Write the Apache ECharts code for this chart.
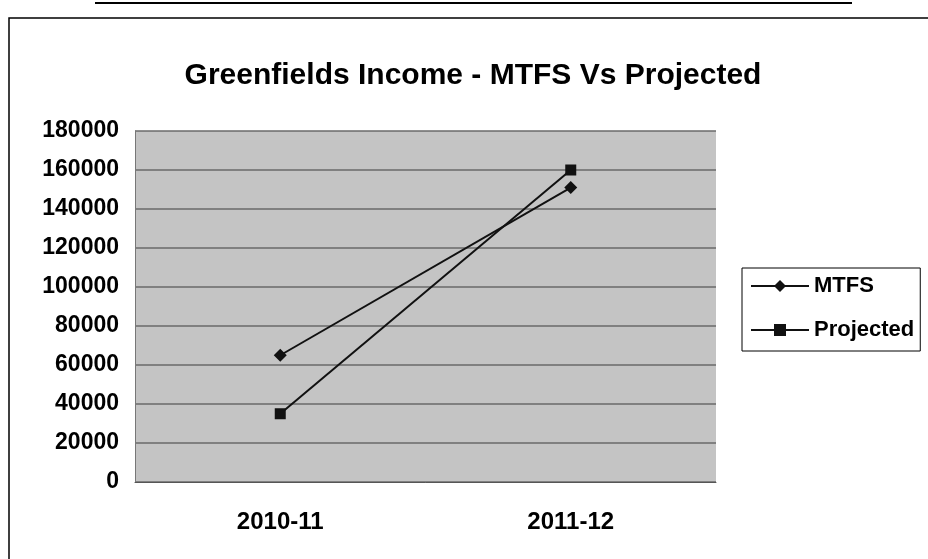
<!DOCTYPE html>
<html>
<head>
<meta charset="utf-8">
<script src="https://cdn.jsdelivr.net/npm/echarts@6/dist/echarts.min.js"></script>
<style>
html,body{margin:0;padding:0;background:#fff;}
#chart{width:928px;height:559px;}
</style>
</head>
<body>
<div id="chart"></div>
<script>
const categories = ['2010-11', '2011-12'];
const mtfs = [65000, 151000];
const projected = [35000, 160000];
const yMin = 0, yMax = 180000, yStep = 20000;

const chart = echarts.init(document.getElementById('chart'));
const font = '"Liberation Sans", Arial, sans-serif';
chart.setOption({
  backgroundColor: '#ffffff',
  animation: false,
  title: {
    text: 'Greenfields Income - MTFS Vs Projected',
    left: 468, top: 56, textAlign: 'center',
    textStyle: {fontFamily: font, fontWeight: 'bold', fontSize: 30, color: '#000'}
  },
  graphic: [
    {type: 'line', shape: {x1: 95, y1: 3, x2: 852, y2: 3}, style: {stroke: '#000', lineWidth: 2}},
    {type: 'polyline', shape: {points: [[9, 559], [9, 18], [928, 18]]}, style: {stroke: '#000', lineWidth: 1.5, fill: null}}
  ],
  grid: {left: 135, right: 212, top: 131, bottom: 77, show: true, backgroundColor: '#c4c4c4', borderWidth: 0},
  legend: {
    orient: 'vertical', left: 742, top: 268,
    itemWidth: 58, itemHeight: 15, itemGap: 20,
    padding: [6, 6, 9, 8],
    backgroundColor: '#fff', borderColor: '#000', borderWidth: 1, borderRadius: 0,
    textStyle: {fontFamily: font, fontWeight: 'bold', fontSize: 22, lineHeight: 24, color: '#000'},
    data: ['MTFS', 'Projected']
  },
  xAxis: {
    type: 'category', data: categories, boundaryGap: true,
    axisLine: {lineStyle: {color: '#555', width: 1}},
    axisTick: {show: false},
    axisLabel: {fontFamily: font, fontWeight: 'bold', fontSize: 24, color: '#000', margin: 28}
  },
  yAxis: {
    type: 'value', min: yMin, max: yMax, interval: yStep,
    axisLine: {show: true, lineStyle: {color: '#777', width: 1}},
    axisTick: {show: false},
    splitLine: {lineStyle: {color: '#6a6a6a', width: 1.5}},
    axisLabel: {fontFamily: font, fontWeight: 'bold', fontSize: 23, color: '#000', margin: 16,
      formatter: function (v) { return String(v); }}
  },
  series: [
    {name: 'MTFS', type: 'line', data: mtfs, symbol: 'diamond', symbolSize: 13,
     lineStyle: {color: '#111', width: 2}, itemStyle: {color: '#111'}},
    {name: 'Projected', type: 'line', data: projected, symbol: 'rect', symbolSize: 11,
     lineStyle: {color: '#111', width: 2}, itemStyle: {color: '#111'}}
  ]
});
</script>
</body>
</html>
